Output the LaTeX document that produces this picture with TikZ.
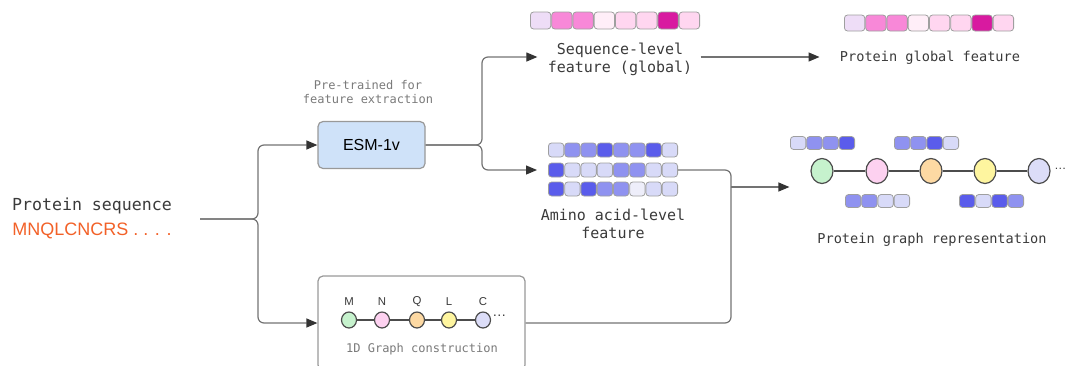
\documentclass[tikz,border=0pt]{standalone}
\usepackage{fontspec}
\setmainfont{Liberation Sans}
\setmonofont{DejaVu Sans Mono}
\usetikzlibrary{arrows.meta,shapes.geometric}
\definecolor{pkA}{HTML}{EEDDF7}
\definecolor{pkB}{HTML}{F888D8}
\definecolor{pkC}{HTML}{FFEEF8}
\definecolor{pkD}{HTML}{FFD6F0}
\definecolor{pkE}{HTML}{D81AA0}
\definecolor{blA}{HTML}{D8DAF8}
\definecolor{blB}{HTML}{8F92F0}
\definecolor{blC}{HTML}{5A5CEB}
\definecolor{blD}{HTML}{EEEEFA}
\definecolor{grn}{HTML}{C6F2CD}
\definecolor{pnk}{HTML}{FDD1F0}
\definecolor{org}{HTML}{FDD9A3}
\definecolor{ylw}{HTML}{FEF59F}
\definecolor{lav}{HTML}{DCDDF8}
\definecolor{esmblue}{HTML}{CFE2F9}
\definecolor{linegray}{HTML}{737373}
\definecolor{tipgray}{HTML}{333333}
\definecolor{txtgray}{HTML}{3A3A3A}
\definecolor{lightgray}{HTML}{7A7A7A}
\definecolor{seqorange}{HTML}{F26128}
\tikzset{
  conn/.style={draw=linegray,line width=0.6pt,rounded corners=3pt},
  tip/.style={-{Triangle[length=5.5pt,width=4.5pt,color=tipgray]}},
  cell/.style={draw=gray!75,line width=0.4pt,rounded corners=1.6pt,inner sep=0pt},
  res/.style={ellipse,draw=black!70,line width=0.6pt,inner sep=0pt},
  box/.style={draw=gray!80,line width=0.6pt,rounded corners=2.5pt},
  lbl/.style={font=\ttfamily\fontsize{7.5}{9}\selectfont,text=txtgray,align=center,inner sep=2pt},
}
\newcommand\featbar[6]{%
  \foreach \c [count=\i] in {#6}
    \node[cell,fill=\c,minimum width={#4*0.5pt-0.4pt},minimum height={#5*0.5pt}]
      (#1-\i) at ({#2+#4*(\i-0.5)},#3) {};}
\begin{document}
\begin{tikzpicture}[x=0.5pt,y=-0.5pt]
  \useasboundingbox (0,0) rectangle (1066,365);
  \node[lbl,font=\ttfamily\fontsize{8.3}{10}\selectfont] (seq) at (92,206) {Protein sequence};
  \node[font=\fontsize{9}{11}\selectfont,text=seqorange,inner sep=0pt] (aa) at (92,231) {MNQLCNCRS . . . .};
  \coordinate (in) at (200,219);
  \node[lbl,font=\ttfamily\fontsize{6}{7}\selectfont,text=lightgray] (pre) at (368,92) {Pre-trained for\\feature extraction};
  \node[box,fill=esmblue,minimum width=53.5pt,minimum height=23.5pt,font=\fontsize{8}{10}\selectfont] (esm) at (371.5,145) {ESM-1v};
  \node[box,fill=white,minimum width=103.5pt,minimum height=47pt] (gbox) at (421.5,323) {};
  \foreach \x/\l/\c [count=\i] in {349/M/grn,382/N/pnk,417/Q/org,449/L/ylw,483/C/lav}{
    \node[font=\fontsize{5.7}{7}\selectfont,text=txtgray] (rl\i) at (\x,302) {\l};
    \node[res,fill=\c,minimum width=7.5pt,minimum height=8pt] (r\i) at (\x,320) {};
  }
  \draw[black!70,line width=0.6pt] (r1) -- (r2) -- (r3) -- (r4) -- (r5);
  \node[font=\fontsize{7}{8}\selectfont,text=txtgray,anchor=west,inner sep=0pt] (rdots) at (492,316) {\ldots};
  \node[lbl,font=\ttfamily\fontsize{6}{7}\selectfont,text=lightgray] (gcon) at (422,349) {1D Graph construction};
  \featbar{sq}{530}{20.5}{21.25}{17}{pkA,pkB,pkB,pkC,pkD,pkD,pkE,pkD}
  \node[lbl] (seqlbl) at (620,59) {Sequence-level\\feature (global)};
  \featbar{gf}{844}{23}{21.25}{16}{pkA,pkB,pkB,pkC,pkD,pkD,pkE,pkD}
  \node[lbl,font=\ttfamily\fontsize{6.8}{8}\selectfont] (glob) at (930,58) {Protein global feature};
  \featbar{a1}{548}{150}{16.25}{14}{blA,blB,blB,blC,blB,blB,blC,blA}
  \featbar{a2}{548}{170}{16.25}{14}{blC,blA,blA,blA,blB,blB,blA,blA}
  \featbar{a3}{548}{189}{16.25}{14}{blC,blA,blC,blB,blB,blD,blA,blA}
  \node[lbl] (amino) at (613,224) {Amino acid-level\\feature};
  \foreach \x/\c [count=\i] in {822/grn,877/pnk,931/org,985/ylw,1039/lav}
    \node[res,fill=\c,minimum width=11pt,minimum height=12.5pt] (g\i) at (\x,171) {};
  \draw[black!70,line width=0.6pt] (g1) -- (g2) -- (g3) -- (g4) -- (g5);
  \node[font=\fontsize{6}{7}\selectfont,text=txtgray,anchor=west,inner sep=0pt] (gdots) at (1054,169) {\ldots};
  \featbar{b1}{790}{143}{16.25}{13}{blA,blB,blB,blC}
  \featbar{b2}{894}{143}{16.25}{13}{blB,blB,blC,blA}
  \featbar{b3}{845}{201}{16.25}{13}{blB,blB,blA,blA}
  \featbar{b4}{959}{201}{16.25}{13}{blC,blA,blC,blB}
  \node[lbl,font=\ttfamily\fontsize{6.8}{8}\selectfont] (grep) at (932,240) {Protein graph representation};
  \draw[conn,tip] (in) -- (258,219) |- (esm.west);
  \draw[conn,tip] (in) -- (258,219) |- (gbox.west);
  \draw[conn,tip,shorten >=3pt] (esm.east) -- (482,145) |- (seqlbl.west |- 0,57);
  \draw[conn,tip,shorten >=5.5pt] (esm.east) -- (482,145) |- (a2-1.west);
  \draw[conn,tip,shorten <=2pt,shorten >=8pt] (seqlbl.east |- 0,57) -- (glob.west |- 0,57);
  \coordinate (jn) at (731,187);
  \draw[conn] (a2-8.east) -| (jn);
  \draw[conn] (gbox.east) -| (jn);
  \draw[conn,tip,shorten >=10.5pt] (jn) -- (g1.west |- jn);
\end{tikzpicture}
\end{document}
